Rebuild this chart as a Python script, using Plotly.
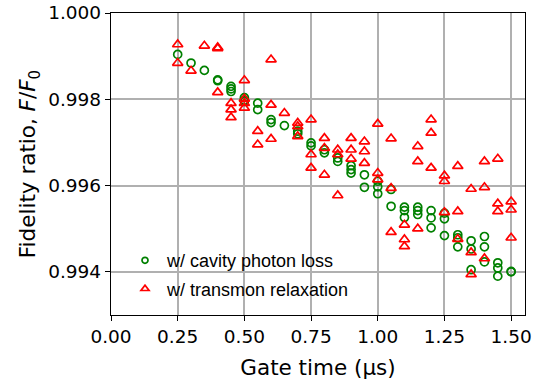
import plotly.graph_objects as go

# Series: w/ cavity photon loss (green circles)
cav_x = [0.25, 0.30, 0.35, 0.40, 0.40, 0.45, 0.45, 0.45, 0.50, 0.50, 0.50,
         0.55, 0.55, 0.60, 0.60, 0.65, 0.70, 0.70, 0.75, 0.75, 0.80, 0.80,
         0.85, 0.85, 0.90, 0.90, 0.90, 0.95, 0.95, 1.00, 1.00, 1.00,
         1.05, 1.05, 1.10, 1.10, 1.10, 1.15, 1.15, 1.15, 1.20, 1.20, 1.20,
         1.25, 1.25, 1.25, 1.30, 1.30, 1.30, 1.35, 1.35, 1.35,
         1.40, 1.40, 1.40, 1.45, 1.45, 1.45, 1.50, 1.50]
cav_y = [0.99904, 0.99884, 0.99867, 0.99845, 0.99843, 0.99830, 0.99824, 0.99818,
         0.99804, 0.99798, 0.99795, 0.99791, 0.99776, 0.99753, 0.99746, 0.99739,
         0.99726, 0.99720, 0.99699, 0.99692, 0.99683, 0.99676, 0.99664, 0.99656,
         0.99646, 0.99637, 0.99629, 0.99625, 0.99596, 0.99610, 0.99597, 0.99581,
         0.99591, 0.99552, 0.99550, 0.99542, 0.99526, 0.99550, 0.99542, 0.99533,
         0.99542, 0.99525, 0.99502, 0.99536, 0.99523, 0.99484, 0.99486, 0.99479,
         0.99458, 0.99472, 0.99453, 0.99405, 0.99482, 0.99458, 0.99423,
         0.99421, 0.99409, 0.99390, 0.99401, 0.99400]

# Series: w/ transmon relaxation (red triangles)
tr_x = [0.25, 0.25, 0.30, 0.35, 0.40, 0.40, 0.40, 0.45, 0.45, 0.45,
        0.50, 0.50, 0.50, 0.50, 0.55, 0.55, 0.60, 0.60, 0.60, 0.65,
        0.70, 0.70, 0.70, 0.75, 0.75, 0.75, 0.80, 0.80, 0.80,
        0.85, 0.85, 0.85, 0.90, 0.90, 0.90, 0.95, 0.95, 0.95,
        1.00, 1.00, 1.00, 1.05, 1.05, 1.05, 1.10, 1.10, 1.10,
        1.15, 1.15, 1.15, 1.20, 1.20, 1.20, 1.25, 1.25, 1.25,
        1.30, 1.30, 1.30, 1.35, 1.35, 1.35, 1.40, 1.40, 1.40,
        1.45, 1.45, 1.45, 1.50, 1.50, 1.50]
tr_y = [0.99927, 0.99884, 0.99866, 0.99924, 0.99920, 0.99918, 0.99816,
        0.99791, 0.99776, 0.99758, 0.99844, 0.99801, 0.99791, 0.99780,
        0.99726, 0.99695, 0.99892, 0.99787, 0.99708, 0.99768,
        0.99745, 0.99737, 0.99714, 0.99753, 0.99672, 0.99641,
        0.99710, 0.99687, 0.99625, 0.99683, 0.99672, 0.99577,
        0.99710, 0.99683, 0.99662, 0.99702, 0.99679, 0.99652,
        0.99743, 0.99629, 0.99614, 0.99709, 0.99594, 0.99492,
        0.99509, 0.99475, 0.99459, 0.99691, 0.99656, 0.99500,
        0.99753, 0.99722, 0.99641, 0.99623, 0.99610, 0.99538,
        0.99645, 0.99540, 0.99476, 0.99592, 0.99445, 0.99394,
        0.99656, 0.99596, 0.99431, 0.99662, 0.99558, 0.99540,
        0.99563, 0.99544, 0.99479]

labels = ["w/ cavity photon loss", "w/ transmon relaxation"]
x_ticks = [0.0, 0.25, 0.5, 0.75, 1.0, 1.25, 1.5]
y_ticks = [0.994, 0.996, 0.998, 1.000]

GREEN = "#008000"
RED = "#ff0000"
TICKFONT = dict(family="DejaVu Sans", size=18.5, color="black")
TITLEFONT = dict(family="DejaVu Sans", size=21.5, color="black")

fig = go.Figure()
fig.add_trace(go.Scatter(
    x=cav_x, y=cav_y, mode="markers", showlegend=False,
    marker=dict(symbol="circle-open", size=8, color=GREEN, line=dict(width=1.7, color=GREEN)),
))
fig.add_trace(go.Scatter(
    x=tr_x, y=tr_y, mode="markers", showlegend=False,
    marker=dict(symbol="triangle-up-open", size=9, color=RED, line=dict(width=1.7, color=RED)),
))
# legend entries (smaller markers, like the reference legend)
fig.add_trace(go.Scatter(
    x=[None], y=[None], mode="markers", name=labels[0], legend="legend",
    marker=dict(symbol="circle-open", size=6, color=GREEN, line=dict(width=1.7, color=GREEN)),
))
fig.add_trace(go.Scatter(
    x=[None], y=[None], mode="markers", name=labels[1], legend="legend2",
    marker=dict(symbol="triangle-up-open", size=7, color=RED, line=dict(width=1.7, color=RED)),
))

legfont = dict(family="Liberation Sans, Arial", size=18, color="black")
fig.update_layout(
    width=533, height=382,
    margin=dict(l=111, r=8, t=13, b=67),
    paper_bgcolor="white", plot_bgcolor="white",
    legend=dict(x=0.029, y=0.180, xanchor="left", yanchor="middle", itemwidth=34,
                bgcolor="rgba(0,0,0,0)", font=legfont, borderwidth=0),
    legend2=dict(x=0.029, y=0.086, xanchor="left", yanchor="middle", itemwidth=34,
                 bgcolor="rgba(0,0,0,0)", font=legfont, borderwidth=0),
    shapes=[dict(type="rect", xref="paper", yref="paper",
                 x0=0.0224, x1=0.5897, y0=0.0298, y1=0.2318,
                 fillcolor="white", line=dict(width=0), layer="between")],
)
fig.update_xaxes(
    range=[0, 1.552], tickvals=x_ticks, tickformat=".2f", automargin=False,
    showgrid=True, gridcolor="#b0b0b0", gridwidth=1.5,
    showline=True, linecolor="black", linewidth=1.3, mirror=True,
    ticks="outside", ticklen=5, tickwidth=1.3, tickcolor="black",
    tickfont=TICKFONT, zeroline=False,
    title=dict(text="Gate time (µs)", font=TITLEFONT, standoff=13),
)
fig.update_yaxes(
    range=[0.993, 1.000], tickvals=y_ticks, tickformat=".3f", automargin=False,
    showgrid=True, gridcolor="#b0b0b0", gridwidth=1.5,
    showline=True, linecolor="black", linewidth=1.3, mirror=True,
    ticks="outside", ticklen=5, tickwidth=1.3, tickcolor="black",
    tickfont=TICKFONT, zeroline=False,
    title=dict(text="Fidelity ratio, <i>F</i>/<i>F</i><sub>0</sub>", font=TITLEFONT, standoff=6),
)

fig.write_html("out.html")
